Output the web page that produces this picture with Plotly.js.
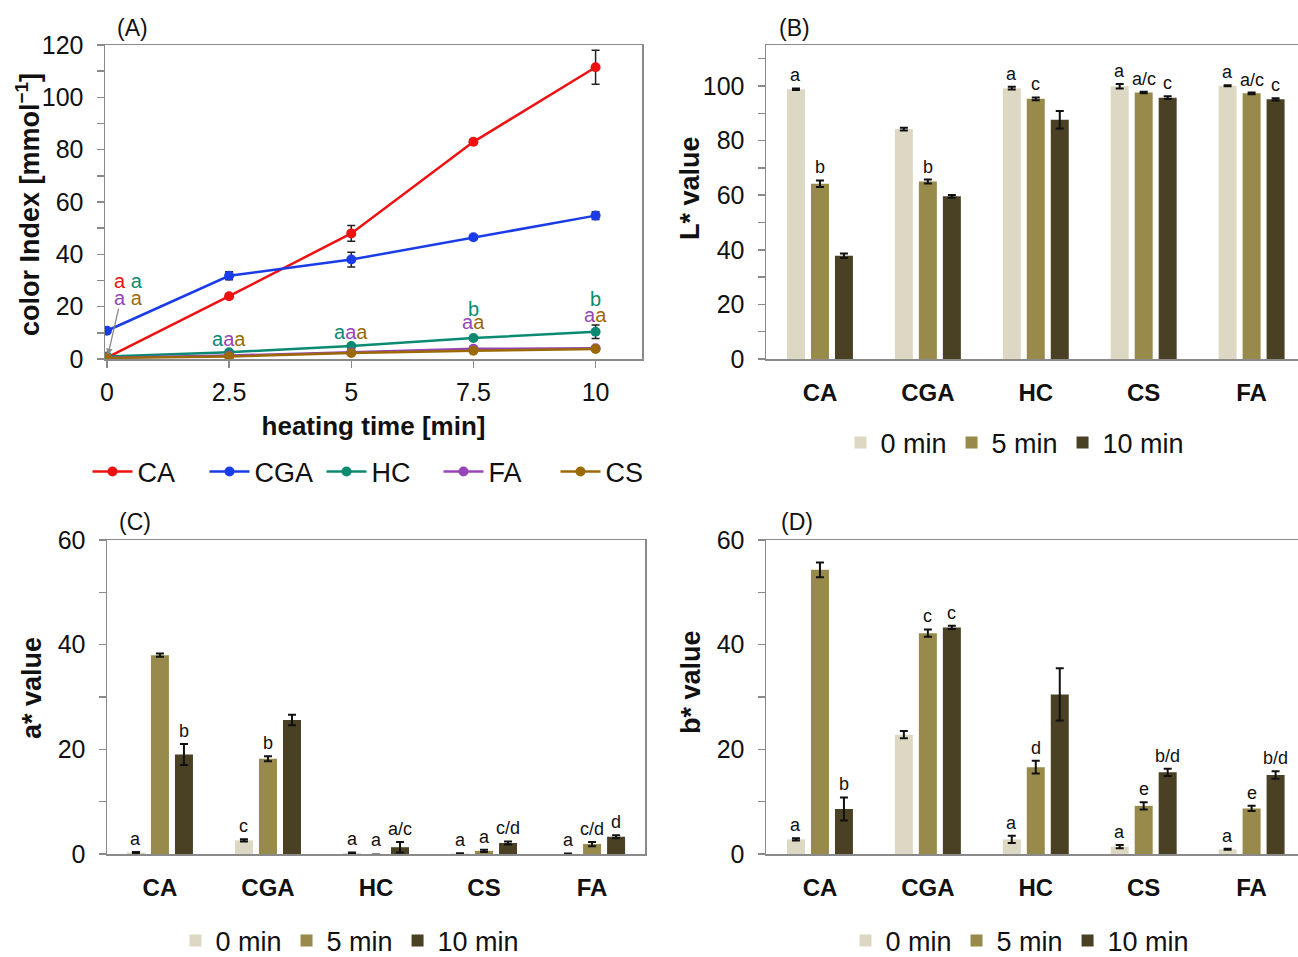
<!DOCTYPE html>
<html><head><meta charset="utf-8">
<script src="https://cdn.plot.ly/plotly-3.0.1.min.js"></script>
<style>body{margin:0;background:#fff}#chart{width:1298px;height:957px}</style>
</head><body><div id="chart"></div>
<script>
// ---------- DATA ----------
const heatingTime = [0, 2.5, 5, 7.5, 10];
const timeTicks = ['0', '2.5', '5', '7.5', '10'];
const ciCA  = [0.5, 24, 48, 83, 111.5];   const ciCAErr  = [0.3, 0.8, 3, 0.8, 6.5];
const ciCGA = [10.8, 31.8, 38, 46.5, 54.8]; const ciCGAErr = [0.5, 1.5, 2.8, 0.8, 1.5];
const ciHC  = [1.0, 2.6, 5.0, 8.0, 10.4];  const ciHCErr  = [0.2, 0.3, 0.4, 0.5, 2.6];
const ciFA  = [0.5, 1.3, 2.6, 3.9, 4.1];   const ciFAErr  = [0.1, 0.2, 0.2, 0.3, 0.3];
const ciCS  = [0.4, 1.0, 2.3, 3.2, 3.8];   const ciCSErr  = [0.1, 0.2, 0.2, 0.3, 0.3];

const compounds = ['CA', 'CGA', 'HC', 'CS', 'FA'];
const timeLabels = ['0 min', '5 min', '10 min'];

const L0  = [98.8, 84.2, 99.2, 99.9, 100.1]; const L0Err  = [0.3, 0.5, 0.5, 0.8, 0.2];
const L5  = [64.2, 65.0, 95.3, 97.6, 97.3];  const L5Err  = [1.2, 0.7, 0.5, 0.3, 0.3];
const L10 = [37.8, 59.6, 87.6, 95.7, 95.1];  const L10Err = [0.8, 0.5, 3.2, 0.5, 0.4];
const Lletters0  = ['a', '', 'a', 'a', 'a'];
const Lletters5  = ['b', 'b', 'c', 'a/c', 'a/c'];
const Lletters10 = ['', '', '', 'c', 'c'];

const A0  = [0.3, 2.6, 0.2, 0.1, 0.05]; const A0Err  = [0.1, 0.2, 0.1, 0.05, 0.05];
const A5  = [38.0, 18.2, -0.2, 0.6, 1.9]; const A5Err  = [0.3, 0.5, 0.1, 0.2, 0.4];
const A10 = [19.0, 25.6, 1.3, 2.1, 3.3]; const A10Err = [2.0, 1.0, 1.0, 0.3, 0.3];
const Aletters0  = ['a', 'c', 'a', 'a', 'a'];
const Aletters5  = ['', 'b', 'a', 'a', 'c/d'];
const Aletters10 = ['b', '', 'a/c', 'c/d', 'd'];

const B0  = [2.8, 22.8, 2.8, 1.4, 0.9];  const B0Err  = [0.2, 0.7, 0.7, 0.3, 0.1];
const B5  = [54.3, 42.2, 16.6, 9.2, 8.7]; const B5Err  = [1.4, 0.7, 1.2, 0.7, 0.5];
const B10 = [8.6, 43.3, 30.5, 15.6, 15.1]; const B10Err = [2.2, 0.3, 5.0, 0.7, 0.7];
const Bletters0  = ['a', '', 'a', 'a', 'a'];
const Bletters5  = ['', 'c', 'd', 'e', 'e'];
const Bletters10 = ['b', 'c', '', 'b/d', 'b/d'];

// letters for panel A: [x, y, [[letter, series], ...]]
const ciLetters = [
  [0.45, 30, [['a','CA'], ['a','HC']]],
  [0.45, 23.5, [['a','FA'], ['a','CS']]],
  [2.5, 7.5, [['a','HC'], ['a','FA'], ['a','CS']]],
  [5, 10.2, [['a','HC'], ['a','FA'], ['a','CS']]],
  [7.5, 19, [['b','HC']]],
  [7.5, 14, [['a','FA'], ['a','CS']]],
  [10, 23, [['b','HC']]],
  [10, 17, [['a','FA'], ['a','CS']]]
];

const yTitles = ['color Index [mmol<sup>−1</sup>]', 'L* value', 'a* value', 'b* value'];

// ---------- STYLE ----------
const FONT = 'Liberation Sans, Arial, sans-serif';
const lineColors = {CA: '#ee1111', CGA: '#1a3be8', HC: '#0b8a72', FA: '#9646b8', CS: '#9b6a05'};
const barColors = ['#ddd8c3', '#978a4b', '#4a4124'];
const W = 1298, H = 957;
const px = v => v / W, py = v => (H - v) / H;

const traces = [];
const lineSeries = [['CA', ciCA, ciCAErr], ['CGA', ciCGA, ciCGAErr], ['HC', ciHC, ciHCErr], ['FA', ciFA, ciFAErr], ['CS', ciCS, ciCSErr]];
lineSeries.forEach(([name, ys, es]) => {
  traces.push({
    type: 'scatter', mode: 'lines+markers', name: name, x: heatingTime, y: ys,
    xaxis: 'x', yaxis: 'y', legend: 'legend',
    line: {color: lineColors[name], width: 2.5},
    marker: {color: lineColors[name], size: 10},
    error_y: {type: 'data', array: es, visible: true, color: '#222', thickness: 1.5, width: 4}
  });
});

function barSet(vals, errs, ax, ay, leg) {
  vals.forEach((v, k) => {
    traces.push({
      type: 'bar', name: timeLabels[k], x: compounds, y: v,
      xaxis: ax, yaxis: ay, legend: leg,
      marker: {color: barColors[k]},
      error_y: {type: 'data', array: errs[k], visible: true, color: '#111', thickness: 2, width: 4}
    });
  });
}
barSet([L0, L5, L10], [L0Err, L5Err, L10Err], 'x2', 'y2', 'legend2');
barSet([A0, A5, A10], [A0Err, A5Err, A10Err], 'x3', 'y3', 'legend3');
barSet([B0, B5, B10], [B0Err, B5Err, B10Err], 'x4', 'y4', 'legend4');

const annotations = [];
function barLetters(letters, vals, errs, ax, ay) {
  letters.forEach((arr, k) => {
    arr.forEach((t, i) => {
      if (!t) return;
      const top = Math.max(vals[k][i], 0) + errs[k][i];
      annotations.push({x: compounds[i], y: top, xref: ax, yref: ay, text: t, showarrow: false,
        xshift: (k - 1) * 24, yanchor: 'bottom', yshift: 1,
        font: {family: FONT, size: 18, color: '#111'}});
    });
  });
}
barLetters([Lletters0, Lletters5, Lletters10], [L0, L5, L10], [L0Err, L5Err, L10Err], 'x2', 'y2');
barLetters([Aletters0, Aletters5, Aletters10], [A0, A5, A10], [A0Err, A5Err, A10Err], 'x3', 'y3');
barLetters([Bletters0, Bletters5, Bletters10], [B0, B5, B10], [B0Err, B5Err, B10Err], 'x4', 'y4');

ciLetters.forEach(([x, y, parts]) => {
  const sep = (x < 1) ? ' ' : '';
  const txt = parts.map(([l, s]) => `<span style="color:${lineColors[s]}">${l}</span>`).join(sep);
  annotations.push({x: x, y: y, xref: 'x', yref: 'y', text: txt, showarrow: false,
    font: {family: FONT, size: 20}});
});
// arrow in panel A
annotations.push({x: 0.02, y: 1.5, xref: 'x', yref: 'y', text: '', showarrow: true,
  ax: 11, ay: -48, arrowhead: 2, arrowsize: 1, arrowwidth: 1.3, arrowcolor: '#888'});

[['(A)', 132, 28], ['(B)', 794, 28], ['(C)', 135, 522], ['(D)', 797, 522]].forEach(([t, x, y]) => {
  annotations.push({x: px(x), y: py(y), xref: 'paper', yref: 'paper', text: t, showarrow: false,
    xanchor: 'center', yanchor: 'middle',
    font: {family: FONT, size: 23, color: '#111'}});
});

// y-axis titles (placed as rotated text)
[[yTitles[0], 28, 205], [yTitles[1], 690, 188], [yTitles[2], 32, 688], [yTitles[3], 691, 682]].forEach(([t, x, y]) => {
  annotations.push({x: px(x), y: py(y), xref: 'paper', yref: 'paper', text: t, showarrow: false,
    textangle: -90, xanchor: 'center', yanchor: 'middle',
    font: {family: FONT, size: 27, color: '#111', weight: 'bold'}});
});

const axLine = {showline: true, linecolor: '#8a8a8a', linewidth: 1.5, mirror: true, showgrid: false, zeroline: false};
const tickF = {family: FONT, size: 25, color: '#111'};
const catF = {family: FONT, size: 24, color: '#111', weight: 'bold'};
const titleF = {family: FONT, size: 26, color: '#111', weight: 'bold'};
const yTicks = {ticks: 'outside', ticklen: 7, tickcolor: '#8a8a8a', tickwidth: 1.5, ticklabelstandoff: 8,
  minor: {dtick: 10, ticks: 'outside', ticklen: 7, tickcolor: '#8a8a8a', tickwidth: 1.5}, tickfont: tickF};

const topDom = [py(359), py(45)];
const botDom = [py(854), py(540)];

const legF = {family: FONT, size: 27, color: '#111'};

const layout = {
  width: W, height: H, margin: {l: 0, r: 0, t: 0, b: 0, autoexpand: false},
  paper_bgcolor: '#fff', plot_bgcolor: '#fff',
  font: {family: FONT, color: '#111'},
  barmode: 'group', bargap: 0.333, bargroupgap: 0.25,
  xaxis: Object.assign({}, axLine, {domain: [px(105), px(642)], range: [-0.04, 10.95], anchor: 'y',
    tickvals: heatingTime, ticktext: timeTicks, ticks: 'outside', ticklen: 7, tickcolor: '#8a8a8a', tickwidth: 1.5,
    ticklabelstandoff: 3,
    tickfont: tickF, title: {text: 'heating time [min]', font: titleF, standoff: 12}}),
  yaxis: Object.assign({}, axLine, yTicks, {domain: topDom, range: [0, 120], dtick: 20, anchor: 'x'}),
  xaxis2: Object.assign({}, axLine, {domain: [px(766), 1], range: [-0.5, 4.43], anchor: 'y2', type: 'category',
    ticks: '', ticklabelstandoff: 12, tickfont: catF}),
  yaxis2: Object.assign({}, axLine, yTicks, {domain: topDom, range: [0, 115], dtick: 20, anchor: 'x2'}),
  xaxis3: Object.assign({}, axLine, {domain: [px(107), px(645)], range: [-0.49, 4.49], anchor: 'y3', type: 'category',
    ticks: '', ticklabelstandoff: 12, tickfont: catF}),
  yaxis3: Object.assign({}, axLine, yTicks, {domain: botDom, range: [0, 60], dtick: 20, anchor: 'x3'}),
  xaxis4: Object.assign({}, axLine, {domain: [px(766), 1], range: [-0.5, 4.43], anchor: 'y4', type: 'category',
    ticks: '', ticklabelstandoff: 12, tickfont: catF}),
  yaxis4: Object.assign({}, axLine, yTicks, {domain: botDom, range: [0, 60], dtick: 20, anchor: 'x4'}),
  legend:  {orientation: 'h', x: px(380), y: py(472), xanchor: 'center', yanchor: 'middle', font: legF,
    entrywidth: 62, itemwidth: 40},
  legend2: {orientation: 'h', x: px(1015), y: py(443), xanchor: 'center', yanchor: 'middle', font: legF},
  legend3: {orientation: 'h', x: px(350), y: py(941), xanchor: 'center', yanchor: 'middle', font: legF},
  legend4: {orientation: 'h', x: px(1020), y: py(941), xanchor: 'center', yanchor: 'middle', font: legF},
  annotations: annotations,
  showlegend: true
};

Plotly.newPlot('chart', traces, layout, {displayModeBar: false, staticPlot: true});
</script></body></html>
